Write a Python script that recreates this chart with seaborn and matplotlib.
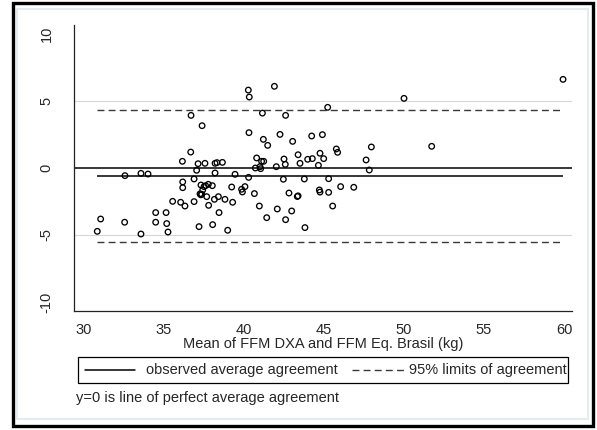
import numpy as np
import pandas as pd
import matplotlib
matplotlib.use("Agg")
import matplotlib.pyplot as plt
from matplotlib.lines import Line2D
from matplotlib.patches import Rectangle
import seaborn as sns

# mean of the two FFM measures (kg) and their difference
mean_ffm = [59.94, 50.0, 45.23, 40.27, 40.33, 41.9, 36.69, 37.38, 41.15, 42.6,
            40.31, 41.21, 41.48, 42.25, 43.04, 44.23, 44.9, 36.67, 36.15, 37.04,
            37.13, 37.56, 38.19, 38.31, 38.65, 40.79, 41.1, 41.23, 40.71, 41.0,
            41.04, 42.02, 42.5, 42.58, 43.38, 43.5, 43.98, 44.27, 44.65, 44.75,
            45.77, 45.85, 47.96, 51.73, 44.98, 47.63, 47.83, 32.56, 33.56, 34.0,
            36.88, 38.19, 39.44, 40.29, 42.46, 43.77, 45.29, 36.17, 36.17, 37.31,
            37.5, 37.6, 37.77, 38.02, 37.42, 37.25, 37.3, 37.36, 37.67, 38.15,
            38.4, 38.81, 39.23, 39.85, 39.9, 40.06, 40.65, 35.54, 36.04, 36.31,
            36.88, 37.79, 39.29, 34.48, 35.13, 38.44, 40.96, 42.08, 42.81, 43.33,
            43.38, 42.98, 41.42, 42.6, 31.04, 32.54, 34.48, 35.17, 37.19, 38.04,
            43.81, 30.83, 33.56, 35.25, 38.98, 44.71, 44.75, 45.29, 46.04, 46.86,
            45.54]
diff_ffm = [6.62, 5.20, 4.53, 5.82, 5.30, 6.1, 3.93, 3.16, 4.10, 3.93,
            2.64, 2.14, 1.69, 2.51, 1.99, 2.39, 2.49, 1.19, 0.50, -0.17,
            0.32, 0.35, 0.35, 0.40, 0.42, 0.75, 0.5, 0.5, 0.0, 0.1,
            -0.05, 0.1, 0.67, 0.27, 0.99, 0.35, 0.65, 0.70, 0.20, 1.10,
            1.42, 1.17, 1.57, 1.62, 0.70, 0.60, -0.15, -0.57, -0.40, -0.45,
            -0.82, -0.37, -0.47, -0.70, -0.84, -0.82, -0.80, -1.04, -1.47, -1.27,
            -1.39, -1.32, -1.22, -1.32, -1.64, -1.93, -2.0, -1.96, -2.14, -2.34,
            -2.14, -2.34, -1.42, -1.59, -1.79, -1.39, -1.91, -2.49, -2.56, -2.84,
            -2.51, -2.79, -2.56, -3.33, -3.33, -3.33, -2.84, -3.06, -1.87, -2.13,
            -2.08, -3.21, -3.71, -3.86, -3.81, -4.05, -4.05, -4.15, -4.38, -4.23,
            -4.45, -4.73, -4.93, -4.78, -4.65, -1.64, -1.80, -1.82, -1.39, -1.44,
            -2.84]

mean_diff = -0.60
loa_upper = 4.33
loa_lower = -5.54

x_ticks = [30, 35, 40, 45, 50, 55, 60]
y_ticks = [-10, -5, 0, 5, 10]

df = pd.DataFrame({"mean": mean_ffm, "diff": diff_ffm})

sns.set_style("white")
plt.rcParams["font.family"] = ["Liberation Sans", "DejaVu Sans"]
plt.rcParams["axes.unicode_minus"] = False
fs = 10.5

fig = plt.figure(figsize=(5.97, 4.30), dpi=100)
ax = fig.add_axes([74 / 597, 1 - 311 / 430, 498 / 597, 286 / 430])

for g in (-5, 5):
    ax.axhline(g, color="#d6d6d6", lw=0.8, zorder=0)
ax.axhline(0, color="black", lw=1.1, zorder=1)

x0, x1 = min(mean_ffm), max(mean_ffm)
ax.hlines(mean_diff, x0, x1, color="black", lw=1.1, zorder=2)
ax.hlines([loa_upper, loa_lower], x0, x1, color="#3a3a3a", lw=1.0,
          linestyles=(0, (5, 3)), zorder=2)

sns.scatterplot(data=df, x="mean", y="diff", ax=ax, marker="o", s=16,
                fc="none", ec="black", linewidth=0.95, zorder=3)

ax.set_xlim(29.375, 60.5)
ax.set_ylim(-10.68, 10.68)
ax.set_xticks(x_ticks)
ax.set_yticks(y_ticks)
ax.set_ylabel("")
ax.set_xlabel("Mean of FFM DXA and FFM Eq. Brasil (kg)", fontsize=fs, labelpad=0.0)

for side in ("top", "right"):
    ax.spines[side].set_visible(False)
for side in ("left", "bottom"):
    ax.spines[side].set_color("#222222")
    ax.spines[side].set_linewidth(0.9)

ax.tick_params(axis="x", length=4.3, width=0.8, pad=4.5, labelsize=fs, color="#222222")
ax.tick_params(axis="y", length=3.6, width=0.8, pad=11, labelsize=fs,
               labelrotation=90, color="#222222")
for lab in ax.get_yticklabels():
    lab.set_va("center")

# legend box
fig.add_artist(Rectangle((78 / 597, 1 - 383 / 430), 490 / 597, 26 / 430,
                         transform=fig.transFigure, fill=False, ec="black", lw=0.9))
ly = 1 - 370 / 430
fig.add_artist(Line2D([85 / 597, 135 / 597], [ly, ly], transform=fig.transFigure,
                      color="black", lw=1.1))
fig.text(146 / 597, ly, "observed average agreement", fontsize=fs, va="center")
fig.add_artist(Line2D([352 / 597, 405 / 597], [ly, ly], transform=fig.transFigure,
                      color="#3a3a3a", lw=1.0, linestyle=(0, (5, 3))))
fig.text(409 / 597, ly, "95% limits of agreement", fontsize=fs, va="center")

fig.text(76 / 597, 1 - 398 / 430, "y=0 is line of perfect average agreement",
         fontsize=fs, va="center")

# outer frame
fig.add_artist(Rectangle((17 / 597, 1 - 419 / 430), 571 / 597, 410 / 430,
                         transform=fig.transFigure, fill=False, ec="#e3ecee", lw=1.5))
fig.add_artist(Rectangle((13 / 597, 1 - 426 / 430), 580 / 597, 423 / 430,
                         transform=fig.transFigure, fill=False, ec="black", lw=2.4))

fig.savefig("out.png", dpi=100)
